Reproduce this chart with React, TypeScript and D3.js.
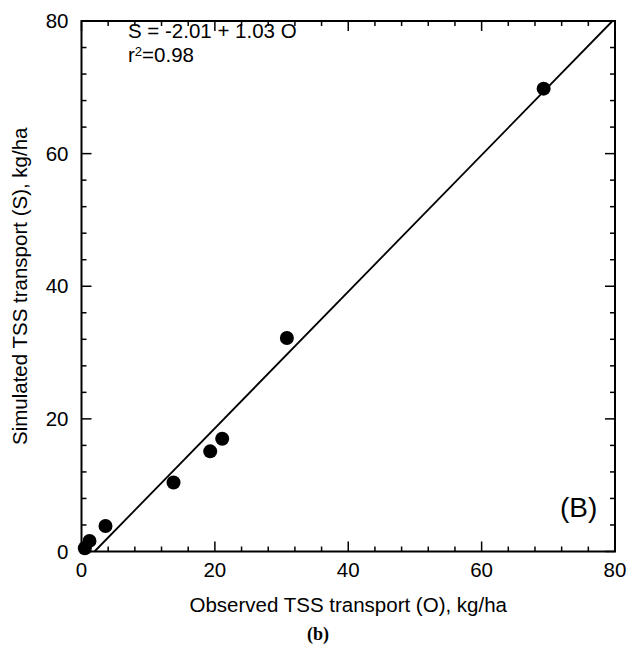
import React from "react";
import * as d3 from "d3";

const observed = [0.5, 1.2, 3.6, 13.8, 19.3, 21.1, 30.8, 69.3];
const simulated = [0.5, 1.6, 3.85, 10.4, 15.1, 17.0, 32.2, 69.8];
const majorTicks = [0, 20, 40, 60, 80];
const minorTicks = d3.range(0, 81, 4);
const intercept = -2.01;
const slope = 1.03;
const equationText = "S = -2.01 + 1.03 O";
const xTitle = "Observed TSS transport (O), kg/ha";
const yTitle = "Simulated TSS transport (S), kg/ha";
const panelLabel = "(B)";
const caption = "(b)";

export default function App() {
  const W = 635, H = 664;
  const left = 81.5, right = 615, top = 21, bottom = 551.5;
  const x = d3.scaleLinear().domain([0, 80]).range([left, right]);
  const y = d3.scaleLinear().domain([0, 80]).range([bottom, top]);
  const font = "Arial, 'Liberation Sans', Helvetica, sans-serif";

  const o0 = -intercept / slope;
  const o1 = (80 - intercept) / slope;
  const lineX1 = Math.min(o1, 80);
  const lineData: [number, number][] = [
    [o0, 0],
    [lineX1, intercept + slope * lineX1],
  ];
  const line = d3.line<[number, number]>().x(d => x(d[0])).y(d => y(d[1]));

  const majLen = 10, minLen = 5;
  const fs = 20.5;

  return (
    <svg width={W} height={H} style={{ position: "absolute", left: 0, top: 0, background: "#fff" }}>
      <rect x={0} y={0} width={W} height={H} fill="#fff" />
      {minorTicks.filter(t => !majorTicks.includes(t)).map(t => (
        <g key={"m" + t} stroke="#000" strokeWidth={1.5}>
          <line x1={x(t)} x2={x(t)} y1={bottom} y2={bottom - minLen} />
          <line x1={x(t)} x2={x(t)} y1={top} y2={top + minLen} />
          <line x1={left} x2={left + minLen} y1={y(t)} y2={y(t)} />
          <line x1={right} x2={right - minLen} y1={y(t)} y2={y(t)} />
        </g>
      ))}
      {majorTicks.map(t => (
        <g key={"M" + t} stroke="#000" strokeWidth={1.5}>
          <line x1={x(t)} x2={x(t)} y1={bottom} y2={bottom - majLen} />
          <line x1={x(t)} x2={x(t)} y1={top} y2={top + majLen} />
          <line x1={left} x2={left + majLen} y1={y(t)} y2={y(t)} />
          <line x1={right} x2={right - majLen} y1={y(t)} y2={y(t)} />
        </g>
      ))}
      <rect x={left} y={top} width={right - left} height={bottom - top} fill="none" stroke="#000" strokeWidth={2} />
      {majorTicks.map(t => (
        <text key={"xl" + t} x={x(t)} y={bottom + 25} textAnchor="middle" fontFamily={font} fontSize={fs}>{t}</text>
      ))}
      {majorTicks.map(t => (
        <text key={"yl" + t} x={left - 13} y={y(t) + 7} textAnchor="end" fontFamily={font} fontSize={fs}>{t}</text>
      ))}
      <path d={line(lineData) || ""} stroke="#000" strokeWidth={1.8} fill="none" />
      {observed.map((o, i) => (
        <circle key={"p" + i} cx={x(o)} cy={y(simulated[i])} r={7} fill="#000" />
      ))}
      <text x={128} y={38} fontFamily={font} fontSize={fs}>{equationText}</text>
      <text x={128} y={62} fontFamily={font} fontSize={fs}>
        r<tspan dy={-6} fontSize={13}>2</tspan><tspan dy={6}>=0.98</tspan>
      </text>
      <text x={560} y={517} fontFamily={font} fontSize={28}>{panelLabel}</text>
      <text x={(left + right) / 2} y={612} textAnchor="middle" fontFamily={font} fontSize={fs}>{xTitle}</text>
      <text transform={`translate(27, ${(top + bottom) / 2}) rotate(-90)`} textAnchor="middle" fontFamily={font} fontSize={fs}>{yTitle}</text>
      <text x={318} y={640} textAnchor="middle" fontFamily="'Liberation Serif', 'Times New Roman', serif" fontWeight="bold" fontSize={18}>{caption}</text>
    </svg>
  );
}
